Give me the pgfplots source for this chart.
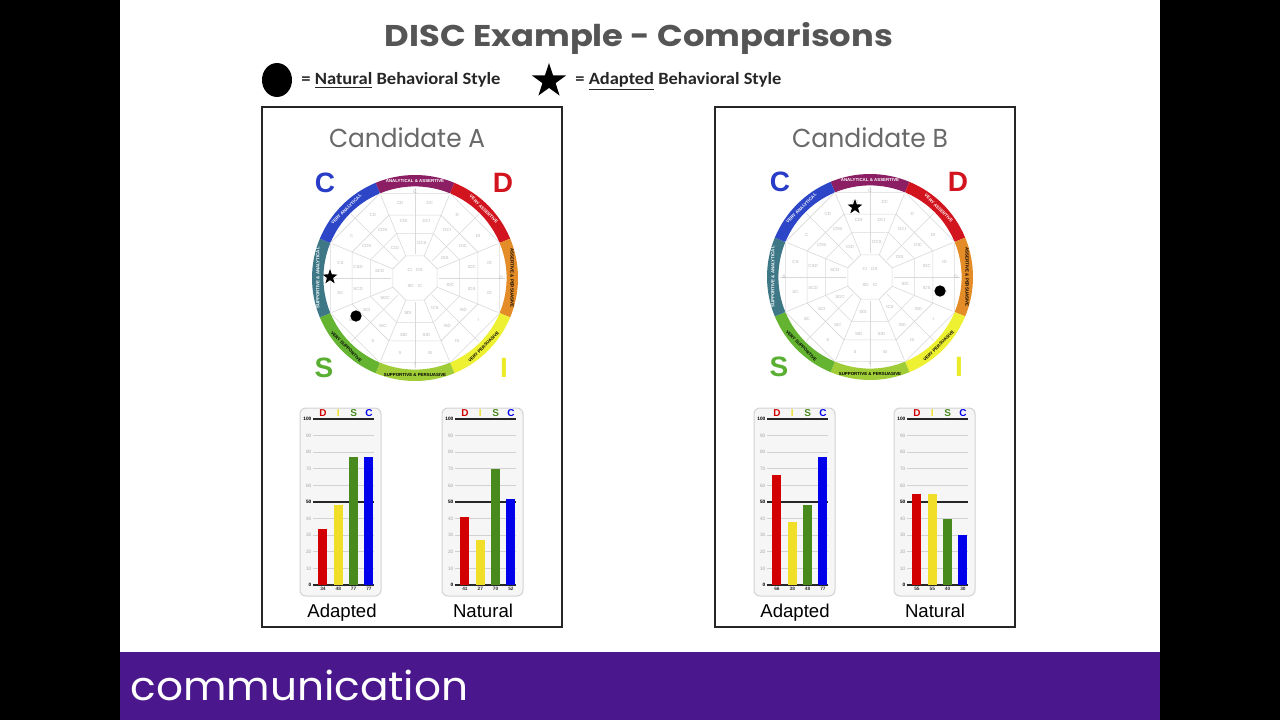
\documentclass[border=0pt]{standalone}
\usepackage{pgfplots}
\pgfplotsset{compat=1.18}
\usepackage{fontspec}
\setmainfont{Liberation Sans}
\newfontfamily\pop{Poppins}
\newfontfamily\carl{Carlito}
\usetikzlibrary{shapes.geometric}

\definecolor{barred}{RGB}{210,0,0}
\definecolor{baryel}{RGB}{240,222,40}
\definecolor{bargrn}{RGB}{72,138,30}
\definecolor{barblu}{RGB}{0,0,235}
\definecolor{wpur}{RGB}{140,30,100}
\definecolor{wred}{RGB}{210,20,30}
\definecolor{wora}{RGB}{228,140,40}
\definecolor{wyel}{RGB}{238,240,50}
\definecolor{wlgr}{RGB}{160,205,55}
\definecolor{wgrn}{RGB}{100,180,50}
\definecolor{wtea}{RGB}{62,120,135}
\definecolor{wblu}{RGB}{45,70,200}
\definecolor{footer}{RGB}{74,24,140}
\definecolor{titlegray}{RGB}{85,85,85}
\definecolor{candgray}{RGB}{105,105,105}
\definecolor{lC}{RGB}{40,60,200}
\definecolor{lD}{RGB}{210,20,30}
\definecolor{lS}{RGB}{90,175,50}
\definecolor{lI}{RGB}{235,235,40}

\pgfdeclareplotmark{fstar}{%
  \pgfpathmoveto{\pgfpointpolar{90}{\pgfplotmarksize}}%
  \pgfpathlineto{\pgfpointpolar{126}{0.4\pgfplotmarksize}}%
  \pgfpathlineto{\pgfpointpolar{162}{\pgfplotmarksize}}%
  \pgfpathlineto{\pgfpointpolar{198}{0.4\pgfplotmarksize}}%
  \pgfpathlineto{\pgfpointpolar{234}{\pgfplotmarksize}}%
  \pgfpathlineto{\pgfpointpolar{270}{0.4\pgfplotmarksize}}%
  \pgfpathlineto{\pgfpointpolar{306}{\pgfplotmarksize}}%
  \pgfpathlineto{\pgfpointpolar{342}{0.4\pgfplotmarksize}}%
  \pgfpathlineto{\pgfpointpolar{18}{\pgfplotmarksize}}%
  \pgfpathlineto{\pgfpointpolar{54}{0.4\pgfplotmarksize}}%
  \pgfpathclose\pgfusepathqfillstroke}

\pgfplotsset{
 discbar/.style={
  scale only axis, width=30.5pt, height=83pt,
  anchor=south west,
  xmin=-0.65, xmax=3.33, ymin=0, ymax=100,
  axis line style={draw=none},
  major tick length=0pt,
  /pgf/number format/assume math mode=true,
  ytick={10,20,30,40,60,70,80,90},
  yticklabel style={font=\fontsize{2.4}{3}\selectfont, text=gray!70, inner sep=0.6pt},
  ymajorgrids, grid style={gray!35, line width=0.4pt},
  extra y ticks={0,50,100},
  extra y tick style={grid style={black!85, line width=0.6pt},
     yticklabel style={font=\fontsize{2.4}{3}\selectfont\bfseries, text=black}},
  xtick={0,1,2,3},
  xticklabel style={font=\fontsize{2.4}{3}\selectfont\bfseries, text=black!80, inner sep=0.8pt},
  clip=false,
 },
 discbars/.style={ybar, bar width=4.5pt, bar shift=0pt, draw=none},
 wheelax/.style={hide axis, scale only axis, width=123.6pt, height=123.6pt,
  xmin=-1.2, xmax=1.2, ymin=-1.2, ymax=1.2, anchor=center, clip=false},
}

\newcommand{\wheel}[2]{%
\begin{scope}[shift={(#1,#2)}]
 \foreach \a/\c in {90/wpur,45/wred,0/wora,-45/wyel,-90/wlgr,-135/wgrn,180/wtea,135/wblu}{
   \fill[\c] ({\a-22.5}:51.5pt) arc[start angle={\a-22.5}, end angle={\a+22.5}, radius=51.5pt]
      -- ({\a+22.5}:45.8pt) arc[start angle={\a+22.5}, end angle={\a-22.5}, radius=45.8pt] -- cycle;
 }
 \foreach \r in {45.8,34,24,12}{
   \draw[gray!30, line width=0.3pt] (22.5:\r pt) -- (67.5:\r pt) -- (112.5:\r pt) -- (157.5:\r pt)
     -- (202.5:\r pt) -- (247.5:\r pt) -- (292.5:\r pt) -- (337.5:\r pt) -- cycle;
 }
 \foreach \a in {0,22.5,...,337.5}{
   \draw[gray!30, line width=0.3pt] (\a:12pt) -- (\a:45pt);
 }
 \foreach \a/\t/\rot/\col in {90/ANALYTICAL \& ASSERTIVE/0/white, 45/VERY ASSERTIVE/-45/white,
   0/ASSERTIVE \& PERSUASIVE/-90/black, -45/VERY PERSUASIVE/45/black,
   -90/SUPPORTIVE \& PERSUASIVE/0/black, -135/VERY SUPPORTIVE/-45/black,
   180/SUPPORTIVE \& ANALYTICAL/90/white, 135/VERY ANALYTICAL/45/white}{
   \node[rotate=\rot, font=\fontsize{2.2}{2.5}\selectfont\bfseries, text=\col, inner sep=0pt] at (\a:48.6pt) {\t};
 }
 \foreach \a/\t in {90/C/D, 0/D/I, -90/I/S, 180/S/C}{
   \node[font=\fontsize{2.4}{3}\selectfont, text=gray!60, inner sep=0pt] at (\a:43pt) {\t};
 }
 \foreach \a/\t in {78.75/DC, 56.25/D, 33.75/DI, 11.25/ID, -11.25/ID, -33.75/I, -56.25/IS, -78.75/SI,
   -101.25/S, -123.75/S, -146.25/SC, -168.75/SC, 168.75/CS, 146.25/C, 123.75/CD, 101.25/CD}{
   \node[font=\fontsize{2.2}{3}\selectfont, text=gray!55, inner sep=0pt] at (\a:38pt) {\t};
 }
 \foreach \a/\t in {78.75/DCI, 56.25/DCI, 33.75/DIC, 11.25/IDC, -11.25/IDS, -33.75/ISD, -56.25/ISD, -78.75/SID,
   -101.25/SID, -123.75/SIC, -146.25/SCI, -168.75/SCD, 168.75/CSD, 146.25/CDS, 123.75/CDS, 101.25/CDI}{
   \node[font=\fontsize{2.2}{3}\selectfont, text=gray!55, inner sep=0pt] at (\a:29pt) {\t};
 }
 \foreach \a/\t in {78.75/DCS, 33.75/DIS, -11.25/IDC, -56.25/ICS, -101.25/SDI, -146.25/SDC, 168.75/SCD, 123.75/CID}{
   \node[font=\fontsize{2.2}{3}\selectfont, text=gray!55, inner sep=0pt] at (\a:18pt) {\t};
 }
 \node[font=\fontsize{2.2}{3}\selectfont, text=gray!55] at (0,8) {CI\quad DS};
 \node[font=\fontsize{2.2}{3}\selectfont, text=gray!55] at (0,-8) {SD\quad IC};
 \node[font=\fontsize{14}{16}\selectfont\bfseries, text=lC] at (-90,95) {C};
 \node[font=\fontsize{14}{16}\selectfont\bfseries, text=lD] at (88,95) {D};
 \node[font=\fontsize{14}{16}\selectfont\bfseries, text=lS] at (-91,-90) {S};
 \node[font=\fontsize{14}{16}\selectfont\bfseries, text=lI] at (89,-90) {I};
\end{scope}}

\newcommand{\discletters}{%
  \node[font=\fontsize{5}{6}\selectfont\bfseries, text=barred] at (axis cs:0,103.5) {D};
  \node[font=\fontsize{5}{6}\selectfont\bfseries, text=baryel] at (axis cs:1,103.5) {I};
  \node[font=\fontsize{5}{6}\selectfont\bfseries, text=bargrn] at (axis cs:2,103.5) {S};
  \node[font=\fontsize{5}{6}\selectfont\bfseries, text=barblu] at (axis cs:3,103.5) {C};
}

\begin{document}
\begin{tikzpicture}[x=0.5pt, y=0.5pt]
\useasboundingbox (0,0) rectangle (1280,720);
\fill[white] (0,0) rectangle (1280,720);
\fill[black] (0,0) rectangle (120,720);
\fill[black] (1160,0) rectangle (1280,720);
\fill[footer] (120,0) rectangle (1160,68);
\node[anchor=base west, inner sep=0pt, text=white] at (130,20)
  {\resizebox{169pt}{\height}{\fontsize{20}{24}\selectfont\pop communication}};

% title
\node[anchor=base, inner sep=0pt, text=titlegray] at (639,674)
  {\resizebox{254pt}{\height}{\fontsize{15}{18}\selectfont\pop\bfseries DISC Example - Comparisons}};

% legend
\fill[black] (277,640) ellipse [x radius=7.5pt, y radius=8.5pt];
\node[anchor=base west, inner sep=0pt, text=black!85] at (301,636)
  {\resizebox{99.5pt}{\height}{\fontsize{8.6}{10}\selectfont\carl\bfseries = \underline{Natural} Behavioral Style}};
\node[star, star points=5, star point ratio=2.6, fill=black, inner sep=0pt, minimum size=18pt] at (549,639) {};
\node[anchor=base west, inner sep=0pt, text=black!85] at (575,636)
  {\resizebox{103pt}{\height}{\fontsize{8.6}{10}\selectfont\carl\bfseries = \underline{Adapted} Behavioral Style}};

% panels
\draw[black!85, line width=0.9pt] (262,613) rectangle (562,93);
\draw[black!85, line width=0.9pt] (715,613) rectangle (1015,93);
\node[anchor=base, inner sep=0pt, text=candgray] at (407,573)
  {\resizebox{78pt}{\height}{\fontsize{13}{15}\selectfont\pop Candidate A}};
\node[anchor=base, inner sep=0pt, text=candgray] at (870,573)
  {\resizebox{78pt}{\height}{\fontsize{13}{15}\selectfont\pop Candidate B}};

% labels under bar charts
\foreach \x/\t in {342/Adapted, 483/Natural, 795/Adapted, 935/Natural}{
  \node[anchor=base, inner sep=0pt] at (\x,103) {\fontsize{9.3}{11}\selectfont \t};
}

% bar chart boxes
\foreach \x in {300,442,754,894}{
  \draw[gray!35, fill=gray!7, line width=0.5pt, rounded corners=3pt] (\x,124) rectangle (\x+81,312);
}

% wheels
\wheel{415}{442}
\wheel{870}{443}

\begin{axis}[wheelax, at={(207.5pt,221pt)}]
  \addplot[only marks, mark=*, mark size=2.6pt, black] coordinates {(-0.573,-0.369)};
  \addplot[only marks, mark=fstar, mark size=3.3pt, black] coordinates {(-0.825,0.01)};
\end{axis}
\begin{axis}[wheelax, at={(435pt,221.5pt)}]
  \addplot[only marks, mark=*, mark size=2.6pt, black] coordinates {(0.68,-0.136)};
  \addplot[only marks, mark=fstar, mark size=3.3pt, black] coordinates {(-0.146,0.68)};
\end{axis}

% Candidate A - Adapted
\begin{axis}[discbar, at={(156.5pt,67.5pt)}, xticklabels={34,48,77,77}]
  \addplot[discbars, fill=barred] coordinates {(0,34)};
  \addplot[discbars, fill=baryel] coordinates {(1,48)};
  \addplot[discbars, fill=bargrn] coordinates {(2,77)};
  \addplot[discbars, fill=barblu] coordinates {(3,77)};
  \discletters
\end{axis}
% Candidate A - Natural
\begin{axis}[discbar, at={(227.5pt,67.5pt)}, xticklabels={41,27,70,52}]
  \addplot[discbars, fill=barred] coordinates {(0,41)};
  \addplot[discbars, fill=baryel] coordinates {(1,27)};
  \addplot[discbars, fill=bargrn] coordinates {(2,70)};
  \addplot[discbars, fill=barblu] coordinates {(3,52)};
  \discletters
\end{axis}
% Candidate B - Adapted
\begin{axis}[discbar, at={(383.5pt,67.5pt)}, xticklabels={66,38,48,77}]
  \addplot[discbars, fill=barred] coordinates {(0,66)};
  \addplot[discbars, fill=baryel] coordinates {(1,38)};
  \addplot[discbars, fill=bargrn] coordinates {(2,48)};
  \addplot[discbars, fill=barblu] coordinates {(3,77)};
  \discletters
\end{axis}
% Candidate B - Natural
\begin{axis}[discbar, at={(453.5pt,67.5pt)}, xticklabels={55,55,40,30}]
  \addplot[discbars, fill=barred] coordinates {(0,55)};
  \addplot[discbars, fill=baryel] coordinates {(1,55)};
  \addplot[discbars, fill=bargrn] coordinates {(2,40)};
  \addplot[discbars, fill=barblu] coordinates {(3,30)};
  \discletters
\end{axis}
\end{tikzpicture}
\end{document}
